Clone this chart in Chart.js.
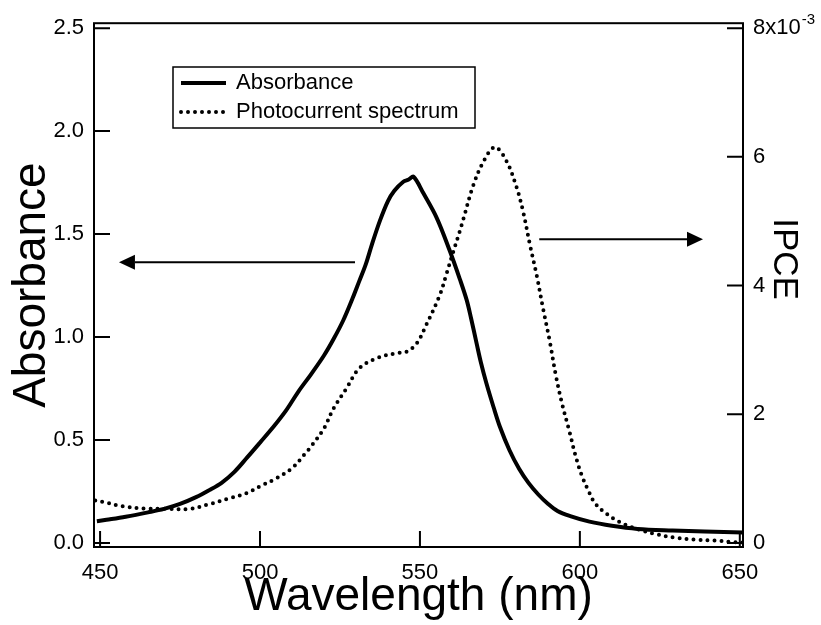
<!DOCTYPE html>
<html>
<head>
<meta charset="utf-8">
<script src="https://cdn.jsdelivr.net/npm/chart.js@4.4.0/dist/chart.umd.min.js"></script>
<style>
  html, body { margin: 0; padding: 0; background: #fff; }
</style>
</head>
<body>
<canvas id="chart" width="821" height="625"></canvas>
<script>
// ---------------- data ----------------
const absWavelength = [449, 452, 458, 465, 470, 475, 480, 484, 488, 492, 496, 500, 504, 508, 512, 516, 520, 523, 526, 529, 531, 533, 535, 537.5, 540, 542, 544.8, 546.5, 548, 551, 555.2, 559.3, 562.5, 564.6, 566, 567.7, 569, 570.8, 573, 575, 578, 581, 584, 587, 590, 593, 597, 603, 610, 618, 629, 639, 651];
const absValue      = [0.105, 0.112, 0.127, 0.148, 0.165, 0.189, 0.222, 0.255, 0.292, 0.345, 0.415, 0.487, 0.56, 0.64, 0.735, 0.82, 0.91, 0.99, 1.08, 1.19, 1.27, 1.35, 1.45, 1.565, 1.66, 1.71, 1.754, 1.765, 1.778, 1.70, 1.58, 1.42, 1.28, 1.18, 1.09, 0.97, 0.88, 0.774, 0.66, 0.564, 0.45, 0.36, 0.29, 0.235, 0.19, 0.155, 0.13, 0.103, 0.083, 0.068, 0.06, 0.055, 0.05];

// IPCE in units of 1e-3
const ipceWavelength = [448.5, 451, 457, 464, 471, 478, 484, 491, 496, 500, 505, 510, 514, 516, 520, 523, 527, 531, 536.5, 542.7, 545.8, 549, 552, 556.2, 558.3, 560.4, 562.5, 563.5, 566.7, 569.8, 573.4, 577, 580.2, 582.3, 584.4, 586.5, 588.5, 590.6, 592.5, 594.5, 596.8, 598.5, 600.5, 602.6, 604.7, 608, 612, 617, 623.4, 630, 636, 642, 647.5, 651];
const ipceValue      = [0.66, 0.636, 0.57, 0.535, 0.53, 0.527, 0.6, 0.70, 0.775, 0.88, 1.0, 1.16, 1.38, 1.5, 1.78, 2.09, 2.40, 2.71, 2.87, 2.95, 2.97, 3.10, 3.39, 3.85, 4.18, 4.52, 4.85, 5.02, 5.56, 5.92, 6.15, 5.94, 5.53, 5.14, 4.63, 4.16, 3.64, 3.13, 2.6, 2.15, 1.72, 1.38, 1.06, 0.82, 0.62, 0.465, 0.336, 0.23, 0.14, 0.078, 0.05, 0.036, 0.015, 0.005];

const wavelengthTicks = [450, 500, 550, 600, 650];
const absTicks = [0, 0.5, 1.0, 1.5, 2.0, 2.5];
const ipceTicks = [0, 2, 4, 6, 8];

// arrows: [fromX, toX, yValue]
const arrowAbs = [529.7, 455.9, 1.363];
const arrowIpce = [587.3, 638.5, 4.72];

const FONT = "'Liberation Sans', Arial, Helvetica, sans-serif";

function toPoints(xs, ys) {
  return xs.map((x, i) => ({ x, y: ys[i] }));
}

// ---------------- custom drawing ----------------
const framePlugin = {
  id: "frame",
  afterDraw(chart) {
    const ctx = chart.ctx;
    const a = chart.chartArea;
    const sx = chart.scales.x, sy = chart.scales.y, sy2 = chart.scales.y2;
    ctx.save();
    ctx.strokeStyle = "#000";
    ctx.fillStyle = "#000";
    ctx.lineWidth = 2;
    ctx.strokeRect(a.left, a.top, a.right - a.left, a.bottom - a.top);

    // inward ticks
    const tl = 16;
    ctx.beginPath();
    wavelengthTicks.forEach((v) => {
      const px = sx.getPixelForValue(v);
      ctx.moveTo(px, a.bottom);
      ctx.lineTo(px, a.bottom - tl);
    });
    absTicks.forEach((v) => {
      const py = sy.getPixelForValue(v);
      ctx.moveTo(a.left, py);
      ctx.lineTo(a.left + tl, py);
    });
    ipceTicks.forEach((v) => {
      const py = sy2.getPixelForValue(v);
      ctx.moveTo(a.right, py);
      ctx.lineTo(a.right - tl, py);
    });
    ctx.stroke();

    // exponent on top IPCE label
    ctx.font = "22px " + FONT;
    const w = ctx.measureText("8x10").width;
    ctx.font = "15px " + FONT;
    ctx.textBaseline = "alphabetic";
    ctx.fillText("-3", a.right + 10 + w + 1, sy2.getPixelForValue(8) - 4);

    // arrows
    drawArrow(ctx, sx.getPixelForValue(arrowAbs[0]), sx.getPixelForValue(arrowAbs[1]), sy.getPixelForValue(arrowAbs[2]));
    drawArrow(ctx, sx.getPixelForValue(arrowIpce[0]), sx.getPixelForValue(arrowIpce[1]), sy2.getPixelForValue(arrowIpce[2]));

    // legend
    const ds = chart.data.datasets;
    ctx.lineWidth = 1.5;
    ctx.strokeRect(173, 67, 302, 61);
    ctx.font = "22px " + FONT;
    ctx.textBaseline = "middle";
    [[83, ds[0]], [112, ds[1]]].forEach(([ly, d]) => {
      ctx.save();
      ctx.lineWidth = d.borderWidth;
      ctx.lineCap = d.borderCapStyle || "butt";
      ctx.setLineDash(d.borderDash || []);
      ctx.beginPath();
      ctx.moveTo(181, ly);
      ctx.lineTo(226, ly);
      ctx.stroke();
      ctx.restore();
      ctx.fillText(d.label, 236, ly);
    });

    // right axis title
    ctx.save();
    ctx.translate(784, 259);
    ctx.rotate(Math.PI / 2);
    ctx.font = "35px " + FONT;
    ctx.textAlign = "center";
    ctx.textBaseline = "middle";
    ctx.fillText("IPCE", 0, 0);
    ctx.restore();

    ctx.restore();
  },
};

function drawArrow(ctx, x0, x1, y) {
  const dir = Math.sign(x1 - x0);
  const head = 16, half = 7.5;
  ctx.beginPath();
  ctx.moveTo(x0, y);
  ctx.lineTo(x1 - dir * head, y);
  ctx.lineWidth = 2;
  ctx.stroke();
  ctx.beginPath();
  ctx.moveTo(x1, y);
  ctx.lineTo(x1 - dir * head, y - half);
  ctx.lineTo(x1 - dir * head, y + half);
  ctx.closePath();
  ctx.fill();
}

// ---------------- chart ----------------
new Chart(document.getElementById("chart"), {
  type: "line",
  data: {
    datasets: [
      {
        label: "Absorbance",
        data: toPoints(absWavelength, absValue),
        yAxisID: "y",
        borderColor: "#000",
        borderWidth: 4,
        pointRadius: 0,
        tension: 0.35,
      },
      {
        label: "Photocurrent spectrum",
        data: toPoints(ipceWavelength, ipceValue),
        yAxisID: "y2",
        borderColor: "#000",
        borderWidth: 4,
        borderDash: [0, 7],
        borderCapStyle: "round",
        pointRadius: 0,
        tension: 0.35,
      },
    ],
  },
  options: {
    responsive: false,
    animation: false,
    layout: { padding: { top: 22, left: 0, right: 0, bottom: 0 } },
    plugins: { legend: { display: false }, tooltip: { enabled: false } },
    scales: {
      x: {
        type: "linear",
        min: 448.1,
        max: 651,
        grid: { display: false, drawTicks: false },
        border: { display: false },
        afterBuildTicks: (s) => { s.ticks = wavelengthTicks.map((v) => ({ value: v })); },
        afterFit: (s) => { s.height = 78; },
        ticks: { color: "#000", padding: 13, font: { size: 22, family: FONT }, maxRotation: 0 },
        title: {
          display: true,
          text: "Wavelength (nm)",
          color: "#000",
          font: { size: 46, family: FONT },
          padding: { top: 0, bottom: 0 },
        },
      },
      y: {
        position: "left",
        min: -0.02,
        max: 2.524,
        grid: { display: false, drawTicks: false },
        border: { display: false },
        afterBuildTicks: (s) => { s.ticks = absTicks.map((v) => ({ value: v })); },
        afterFit: (s) => { s.width = 94; },
        ticks: { color: "#000", padding: 10, font: { size: 22, family: FONT }, callback: (v) => v.toFixed(1) },
        title: {
          display: true,
          text: "Absorbance",
          color: "#000",
          font: { size: 46, family: FONT },
          padding: { top: 5, bottom: 0 },
        },
      },
      y2: {
        position: "right",
        min: -0.064,
        max: 8.077,
        grid: { display: false, drawTicks: false },
        border: { display: false },
        afterBuildTicks: (s) => { s.ticks = ipceTicks.map((v) => ({ value: v })); },
        afterFit: (s) => { s.width = 78; },
        ticks: { color: "#000", padding: 10, font: { size: 22, family: FONT }, callback: (v) => (v === 8 ? "8x10" : String(v)) },
      },
    },
  },
  plugins: [framePlugin],
});
</script>
</body>
</html>
